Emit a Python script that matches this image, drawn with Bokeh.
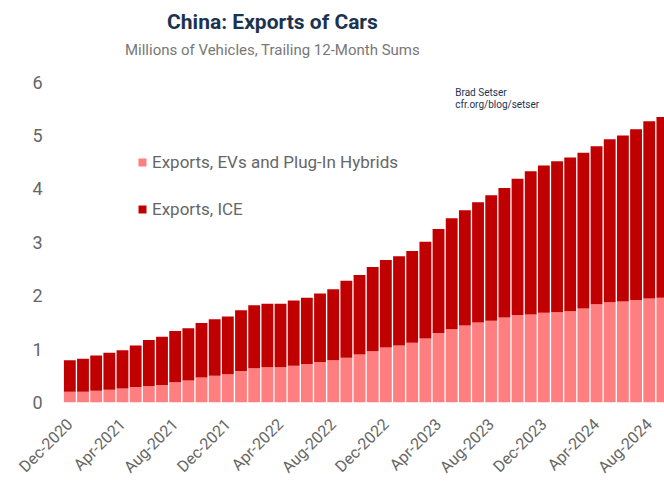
import math
import pandas as pd
from bokeh.plotting import figure
from bokeh.models import FixedTicker, ColumnDataSource, Range1d
from bokeh.core.properties import value
from bokeh.embed import file_html
from bokeh.resources import INLINE

# ---- data (millions of vehicles, trailing 12-month sums) ----
months = list(pd.date_range("2020-12-01", periods=46, freq="MS").strftime("%b-%Y"))
ev = [0.20, 0.20, 0.22, 0.24, 0.26, 0.29, 0.31, 0.33, 0.38, 0.41,
      0.47, 0.50, 0.53, 0.59, 0.64, 0.66, 0.66, 0.69, 0.72, 0.76,
      0.79, 0.84, 0.90, 0.96, 1.03, 1.07, 1.12, 1.20, 1.30, 1.37,
      1.44, 1.50, 1.53, 1.59, 1.64, 1.65, 1.68, 1.69, 1.71, 1.76,
      1.84, 1.88, 1.89, 1.92, 1.95, 1.96]
ice = [0.59, 0.62, 0.66, 0.69, 0.72, 0.78, 0.86, 0.90, 0.96, 0.98,
       1.02, 1.06, 1.08, 1.14, 1.18, 1.19, 1.19, 1.22, 1.24, 1.28,
       1.33, 1.44, 1.49, 1.58, 1.64, 1.67, 1.72, 1.81, 1.95, 2.08,
       2.16, 2.25, 2.35, 2.43, 2.55, 2.68, 2.76, 2.83, 2.88, 2.92,
       2.96, 3.05, 3.11, 3.20, 3.32, 3.39]
series_names = ["Exports, EVs and Plug-In Hybrids", "Exports, ICE"]
y_ticks = [0, 1, 2, 3, 4, 5, 6]
x_tick_idx = list(range(0, 46, 4))

PINK = "#FF7F80"
RED = "#C00000"
GRAY = "#666666"
NAVY = "#1B3350"

src = ColumnDataSource(dict(x=list(range(len(months))), ev=ev, ice=ice))

p = figure(width=664, height=486, output_backend="svg", toolbar_location=None,
           x_range=Range1d(-1.24, 45.16), y_range=Range1d(0, 7.53),
           min_border_left=53, min_border_right=0, min_border_top=0,
           min_border_bottom=78)
p.outline_line_color = None
p.grid.visible = False
p.background_fill_color = "white"

p.vbar_stack(["ev", "ice"], x="x", width=0.9, color=[PINK, RED],
             line_color=None, source=src, legend_label=series_names)

# axes
xa = p.xaxis[0]
xa.ticker = FixedTicker(ticks=x_tick_idx)
xa.major_label_overrides = {i: months[i] for i in x_tick_idx}
xa.major_label_orientation = math.pi / 4
xa.axis_line_color = None
xa.major_tick_line_color = None
xa.minor_tick_line_color = None
xa.major_label_text_font = "Roboto"
xa.major_label_text_font_size = "16px"
xa.major_label_text_color = GRAY
xa.major_label_standoff = 13

ya = p.yaxis[0]
ya.ticker = FixedTicker(ticks=y_ticks)
ya.axis_line_color = None
ya.major_tick_line_color = None
ya.minor_tick_line_color = None
ya.major_label_text_font = "Roboto"
ya.major_label_text_font_size = "18px"
ya.major_label_text_color = GRAY
ya.major_label_standoff = 5

# legend
lg = p.legend[0]
lg.location = (84, 183)
lg.border_line_color = None
lg.background_fill_alpha = 0
lg.padding = 0
lg.margin = 0
lg.spacing = 27
lg.glyph_width = 10
lg.glyph_height = 10
lg.label_height = 20
lg.label_standoff = 5
lg.label_text_font = "Roboto"
lg.label_text_font_size = "17px"
lg.label_text_color = GRAY

# titles / notes
p.text(x=[15.39], y=[7.125], text=["China: Exports of Cars"],
       text_font=value("Roboto"), text_font_size="21px", text_font_style="bold",
       text_color=NAVY, text_align="center", text_baseline="middle")
p.text(x=[15.39], y=[6.61], text=["Millions of Vehicles, Trailing 12-Month Sums"],
       text_font=value("Roboto"), text_font_size="15px",
       text_color="#777777", text_align="center", text_baseline="middle")
p.text(x=[29.27, 29.27], y=[5.815, 5.575], text=["Brad Setser", "cfr.org/blog/setser"],
       text_font=value("Roboto"), text_font_size="10px",
       text_color=NAVY, text_align="left", text_baseline="middle")

open("out.html", "w").write(file_html(p, INLINE))
